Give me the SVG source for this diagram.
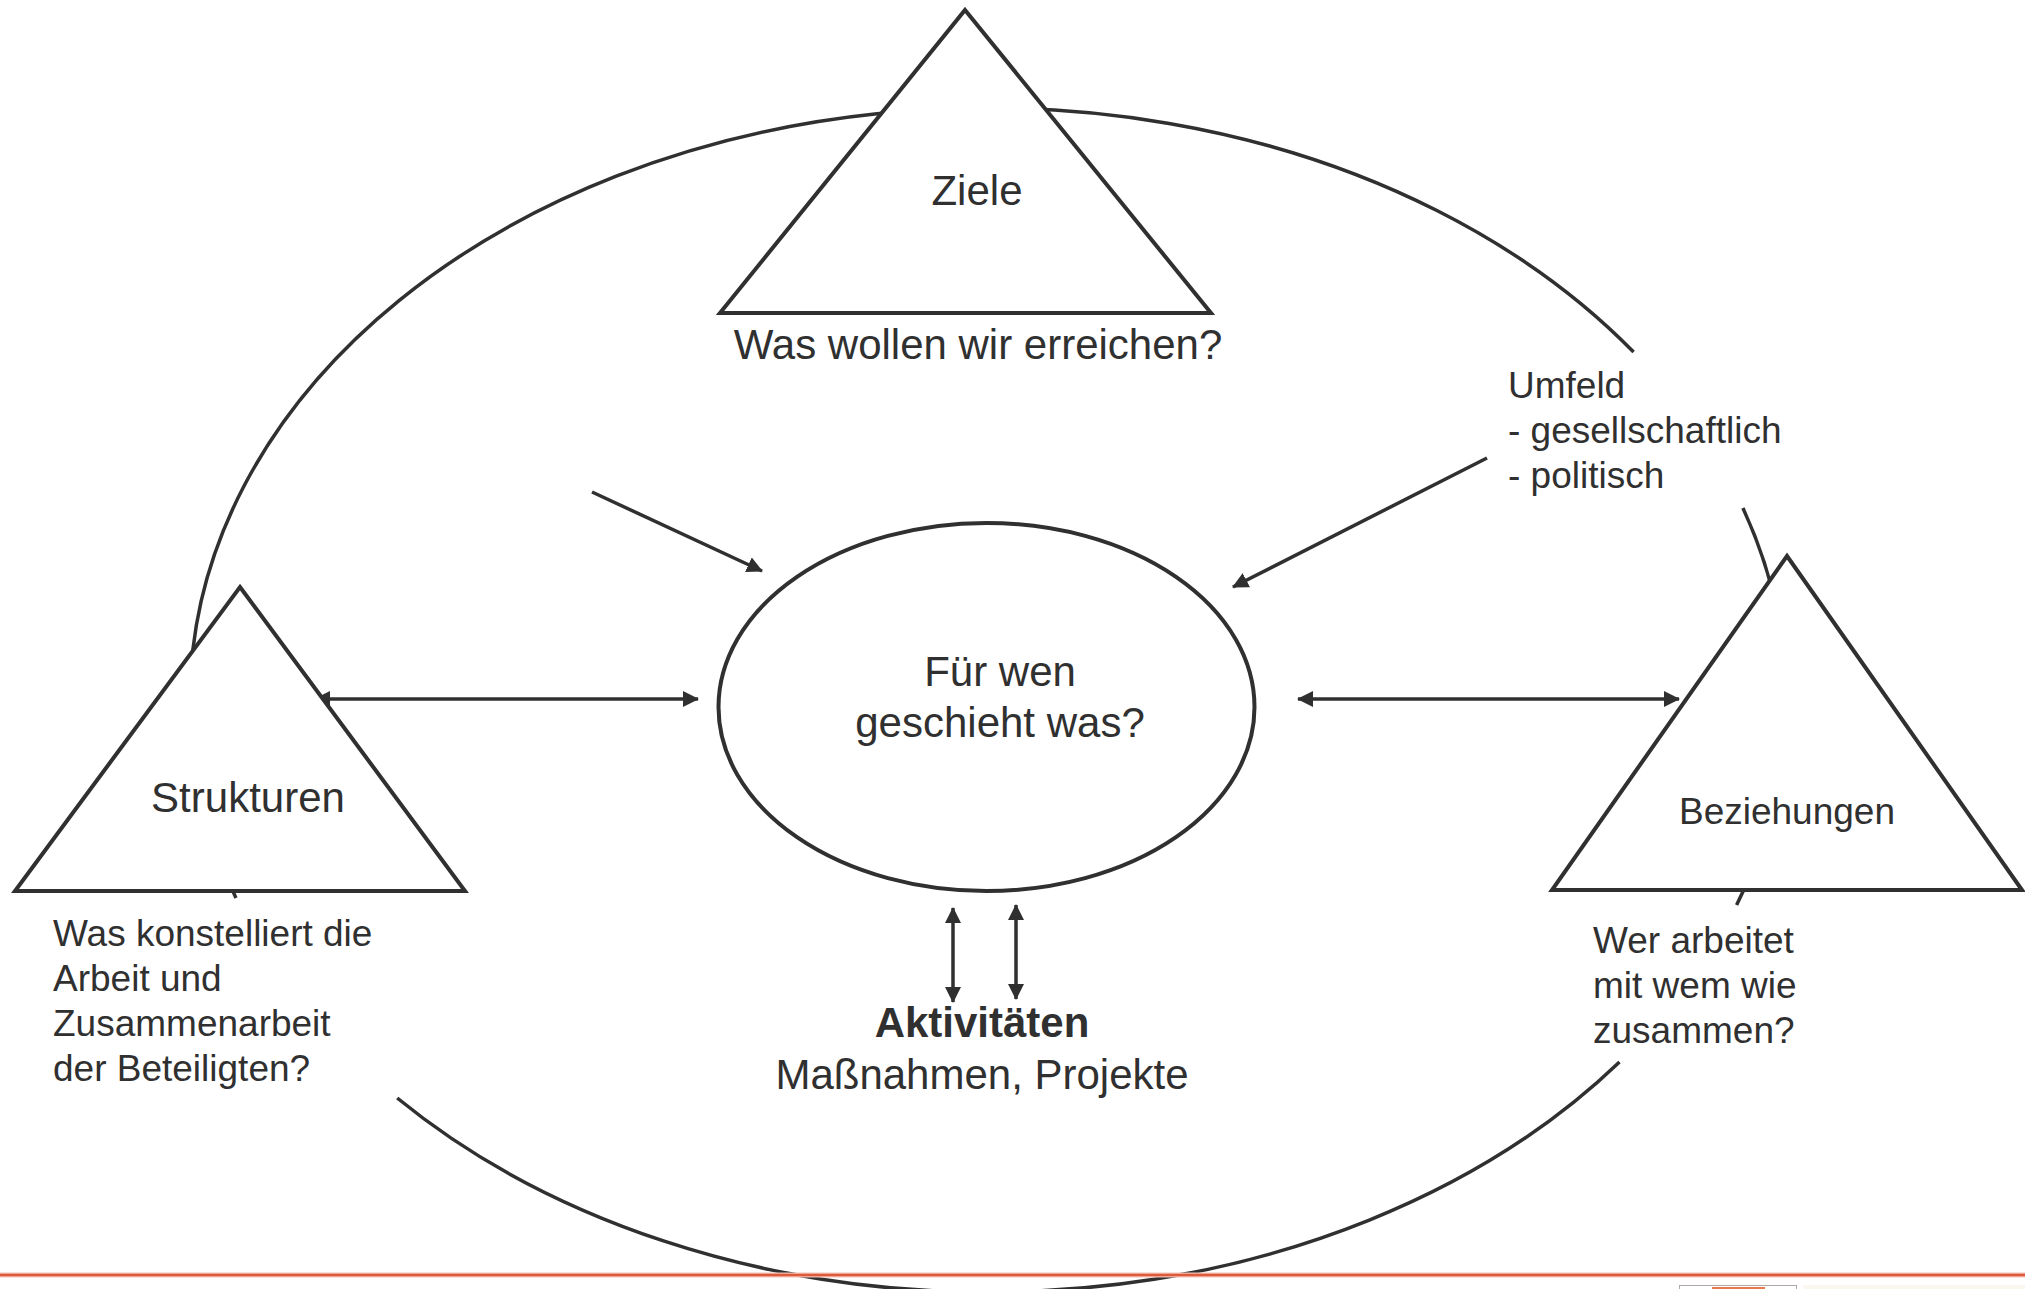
<svg xmlns="http://www.w3.org/2000/svg" width="2025" height="1289" viewBox="0 0 2025 1289">
<style>
.t{font-family:"Liberation Sans",Arial,sans-serif;fill:#303030}
.l{font-size:42px}
.s{font-size:37px}
.b{font-weight:bold}
.shape{fill:#fff;stroke:#303030;stroke-width:4;stroke-linejoin:miter}
.ring{fill:none;stroke:#303030;stroke-width:3.5}
.con{fill:none;stroke:#303030;stroke-width:3.5}
</style>
<defs>
<marker id="ah" viewBox="0 0 16 16" markerWidth="16" markerHeight="16" refX="15" refY="8" orient="auto-start-reverse" markerUnits="userSpaceOnUse">
<path d="M0,0 L16,8 L0,16 z" fill="#303030"/>
</marker>
</defs>
<rect width="2025" height="1289" fill="#fff"/>
<g id="umfeld-ring">
<path class="ring" d="M236,898 A798,592 0 0 1 1633.6,352 M1742.9,508 A798,592 0 0 1 1736.6,905 M1619.5,1062 A798,592 0 0 1 397.2,1098"/>
</g>
<g id="connectors">
<line class="con" x1="592" y1="492" x2="762" y2="571" marker-end="url(#ah)"/>
<line class="con" x1="1487" y1="458" x2="1233" y2="587" marker-end="url(#ah)"/>
<line class="con" x1="315" y1="699" x2="698" y2="699" marker-start="url(#ah)" marker-end="url(#ah)"/>
<line class="con" x1="1298" y1="699" x2="1679" y2="699" marker-start="url(#ah)" marker-end="url(#ah)"/>
<line class="con" x1="953" y1="908" x2="953" y2="1002" marker-start="url(#ah)" marker-end="url(#ah)"/>
<line class="con" x1="1016" y1="905" x2="1016" y2="999" marker-start="url(#ah)" marker-end="url(#ah)"/>
</g>
<g id="ziele">
<polygon class="shape" points="965,10 1211,313 720,313"/>
<text class="t l" x="977" y="205" text-anchor="middle">Ziele</text>
<text class="t l" x="978" y="359" text-anchor="middle">Was wollen wir erreichen?</text>
</g>
<g id="strukturen">
<polygon class="shape" points="240,587 465,891 15,891"/>
<text class="t l" x="248" y="812" text-anchor="middle">Strukturen</text>
<text class="t s" x="53" y="946">Was konstelliert die</text>
<text class="t s" x="53" y="991">Arbeit und</text>
<text class="t s" x="53" y="1036">Zusammenarbeit</text>
<text class="t s" x="53" y="1081">der Beteiligten?</text>
</g>
<g id="beziehungen">
<polygon class="shape" points="1787,556 2022,890 1552,890"/>
<text class="t s" x="1787" y="824" text-anchor="middle">Beziehungen</text>
<text class="t s" x="1593" y="953">Wer arbeitet</text>
<text class="t s" x="1593" y="998">mit wem wie</text>
<text class="t s" x="1593" y="1043">zusammen?</text>
</g>
<g id="umfeld">
<text class="t s" x="1508" y="398">Umfeld</text>
<text class="t s" x="1508" y="443">- gesellschaftlich</text>
<text class="t s" x="1508" y="488">- politisch</text>
</g>
<g id="zielgruppe">
<ellipse class="shape" cx="986.5" cy="707" rx="268" ry="184" stroke-width="3.5"/>
<text class="t l" x="1000" y="686" text-anchor="middle">Für wen</text>
<text class="t l" x="1000" y="737" text-anchor="middle">geschieht was?</text>
</g>
<g id="aktivitaeten">
<text class="t l b" x="982" y="1037" text-anchor="middle">Aktivitäten</text>
<text class="t l" x="982" y="1089" text-anchor="middle">Maßnahmen, Projekte</text>
</g>
<g id="footer">
<line x1="0" y1="1275" x2="2025" y2="1275" stroke="#f3c2b3" stroke-width="5"/>
<line x1="0" y1="1275" x2="2025" y2="1275" stroke="#e05a3a" stroke-width="2.5"/>
<rect x="1803" y="1285" width="222" height="4" fill="#faf6f0"/>
<rect x="1679.5" y="1285.5" width="117" height="6" fill="#fff" stroke="#b0a8a4" stroke-width="1"/>
<rect x="1712" y="1287" width="53" height="2" fill="#e8784e"/>
</g>
</svg>
